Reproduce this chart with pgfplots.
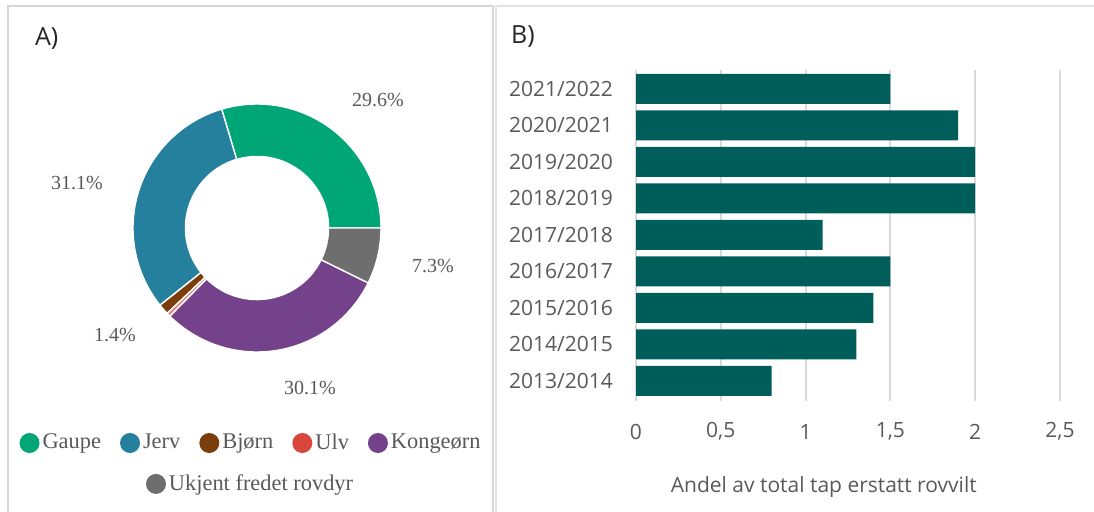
\documentclass[border=0pt]{standalone}
\usepackage{pgfplots}
\usepackage{pgfplotstable}
\pgfplotsset{compat=1.18}
\usepackage{fontspec}
\setmainfont{Open Sans}
\newfontfamily\serifA{Liberation Serif}

\definecolor{gaupe}{HTML}{00A676}
\definecolor{jerv}{HTML}{25809E}
\definecolor{bjorn}{HTML}{7A3E0C}
\definecolor{ulv}{HTML}{D9463B}
\definecolor{kongeorn}{HTML}{74428A}
\definecolor{ukjent}{HTML}{6E6E6E}
\definecolor{barteal}{HTML}{005E5A}
\definecolor{txtgray}{HTML}{595959}
\definecolor{frame}{HTML}{D6D6D6}

% share of each species (%), donut starts at 3 o'clock, counter-clockwise
\pgfplotstableread{
species   share
Gaupe     29.6
Jerv      31.1
Bjorn     1.4
Ulv       0.5
Kongeorn  30.1
Ukjent    7.3
}\donutdata

% share of total loss compensated, per season
\pgfplotstableread{
idx season    value
0   2013/2014 0.8
1   2014/2015 1.3
2   2015/2016 1.4
3   2016/2017 1.5
4   2017/2018 1.1
5   2018/2019 2.0
6   2019/2020 2.0
7   2020/2021 1.9
8   2021/2022 1.5
}\bardata

\colorlet{slice0}{gaupe}
\colorlet{slice1}{jerv}
\colorlet{slice2}{bjorn}
\colorlet{slice3}{ulv!70!white}
\colorlet{slice4}{kongeorn}
\colorlet{slice5}{ukjent}

% cumulative angles of the slices
\gdef\cumsum{0}
\pgfplotsforeachungrouped \i in {0,...,5}{%
  \pgfplotstablegetelem{\i}{share}\of\donutdata
  \pgfmathsetmacro\startang{3.6*\cumsum}%
  \pgfmathsetmacro\newsum{\cumsum+\pgfplotsretval}%
  \pgfmathsetmacro\endang{3.6*\newsum}%
  \expandafter\xdef\csname sa\i\endcsname{\startang}%
  \expandafter\xdef\csname ea\i\endcsname{\endang}%
  \xdef\cumsum{\newsum}%
}

\begin{document}
\begin{tikzpicture}
\useasboundingbox (0,0) rectangle (547pt,255.5pt);

% panel frames
\draw[frame, line width=1pt] (3.75pt,-2pt) -- (3.75pt,252.75pt) -- (246.5pt,252.75pt) -- (246.5pt,-2pt);
\draw[frame!70, line width=1pt] (248pt,-2pt) -- (248pt,252.75pt) -- (549pt,252.75pt);

\node[anchor=west, text=black!85, font=\fontsize{12.5}{14}\selectfont] at (14pt,236pt) {A)};
\node[anchor=west, text=black!85, font=\fontsize{12.5}{14}\selectfont] at (252pt,237pt) {B)};

% ---------------- A) donut ----------------
\begin{axis}[
  at={(128.5pt,141.5pt)}, anchor=center,
  scale only axis, width=124pt, height=124pt,
  xmin=-1, xmax=1, ymin=-1, ymax=1,
  disabledatascaling,
  hide axis,
  clip=false,
  legend columns=5,
  legend image code/.code={\fill[#1, draw=none] (0pt,0pt) circle (5pt);},
  legend style={
    at={(axis description cs:0.478,-0.367)}, anchor=center,
    draw=none, fill=none,
    font=\serifA\fontsize{11.2}{13}\selectfont, text=txtgray,
    /tikz/every even column/.append style={column sep=8pt},
    nodes={inner sep=1.5pt},
  },
]
\pgfplotsinvokeforeach{0,...,5}{%
  \fill[slice#1, draw=white, line width=0.7pt]
    (axis cs:{cos(\csname sa#1\endcsname)},{sin(\csname sa#1\endcsname)})
    arc[start angle=\csname sa#1\endcsname, end angle=\csname ea#1\endcsname, radius=62pt]
    -- (axis cs:{0.577*cos(\csname ea#1\endcsname)},{0.577*sin(\csname ea#1\endcsname)})
    arc[start angle=\csname ea#1\endcsname, end angle=\csname sa#1\endcsname, radius=35.8pt]
    -- cycle;
}
\addlegendimage{fill=gaupe}\addlegendentry{Gaupe}
\addlegendimage{fill=jerv}\addlegendentry{Jerv}
\addlegendimage{fill=bjorn}\addlegendentry{Bjørn}
\addlegendimage{fill=ulv}\addlegendentry{Ulv}
\addlegendimage{fill=kongeorn}\addlegendentry{Kongeørn}
\end{axis}

% second legend row
\begin{axis}[
  at={(128.5pt,141.5pt)}, anchor=center,
  scale only axis, width=124pt, height=124pt,
  xmin=-1, xmax=1, ymin=-1, ymax=1,
  hide axis,
  legend image code/.code={\fill[#1, draw=none] (0pt,0pt) circle (5pt);},
  legend style={
    at={(axis description cs:0.476,-0.532)}, anchor=center,
    draw=none, fill=none,
    font=\serifA\fontsize{11.2}{13}\selectfont, text=txtgray,
    nodes={inner sep=1.5pt},
  },
]
\addlegendimage{fill=ukjent}\addlegendentry{Ukjent fredet rovdyr}
\end{axis}

\begin{scope}[every node/.style={font=\serifA\fontsize{10}{12}\selectfont, text=txtgray}]
\node at (189pt,205.5pt) {29.6\%};
\node at (38.5pt,164pt) {31.1\%};
\node at (216.5pt,122.5pt) {7.3\%};
\node at (57.5pt,88pt) {1.4\%};
\node at (155pt,61.5pt) {30.1\%};
\end{scope}

% ---------------- B) bars ----------------
\begin{axis}[
  at={(318pt,55pt)}, anchor=south west,
  scale only axis, width=212pt, height=165.25pt,
  xbar, bar width=15pt,
  xmin=0, xmax=2.5, ymin=-0.55, ymax=8.5,
  xtick={0,0.5,1,1.5,2,2.5},
  ytick={0,...,8},
  yticklabels from table={\bardata}{season},
  axis line style={draw=none},
  major tick length=0pt,
  xmajorgrids,
  grid style={draw=black!15, line width=1pt},
  tick label style={font=\fontsize{10.5}{12}\selectfont, text=txtgray},
  xticklabel style={anchor=center, yshift=-15.3pt},
  yticklabel style={anchor=east, xshift=-8pt},
  xlabel={Andel av total tap erstatt rovvilt},
  xlabel style={at={(axis description cs:0.443,-0.259)}, anchor=center,
    font=\fontsize{10.5}{12}\selectfont, text=txtgray},
  /pgf/number format/use comma,
  /pgf/number format/assume math mode=true,
]
\addplot[fill=barteal, draw=none] table[x=value, y=idx] {\bardata};
\end{axis}
\end{tikzpicture}
\end{document}
